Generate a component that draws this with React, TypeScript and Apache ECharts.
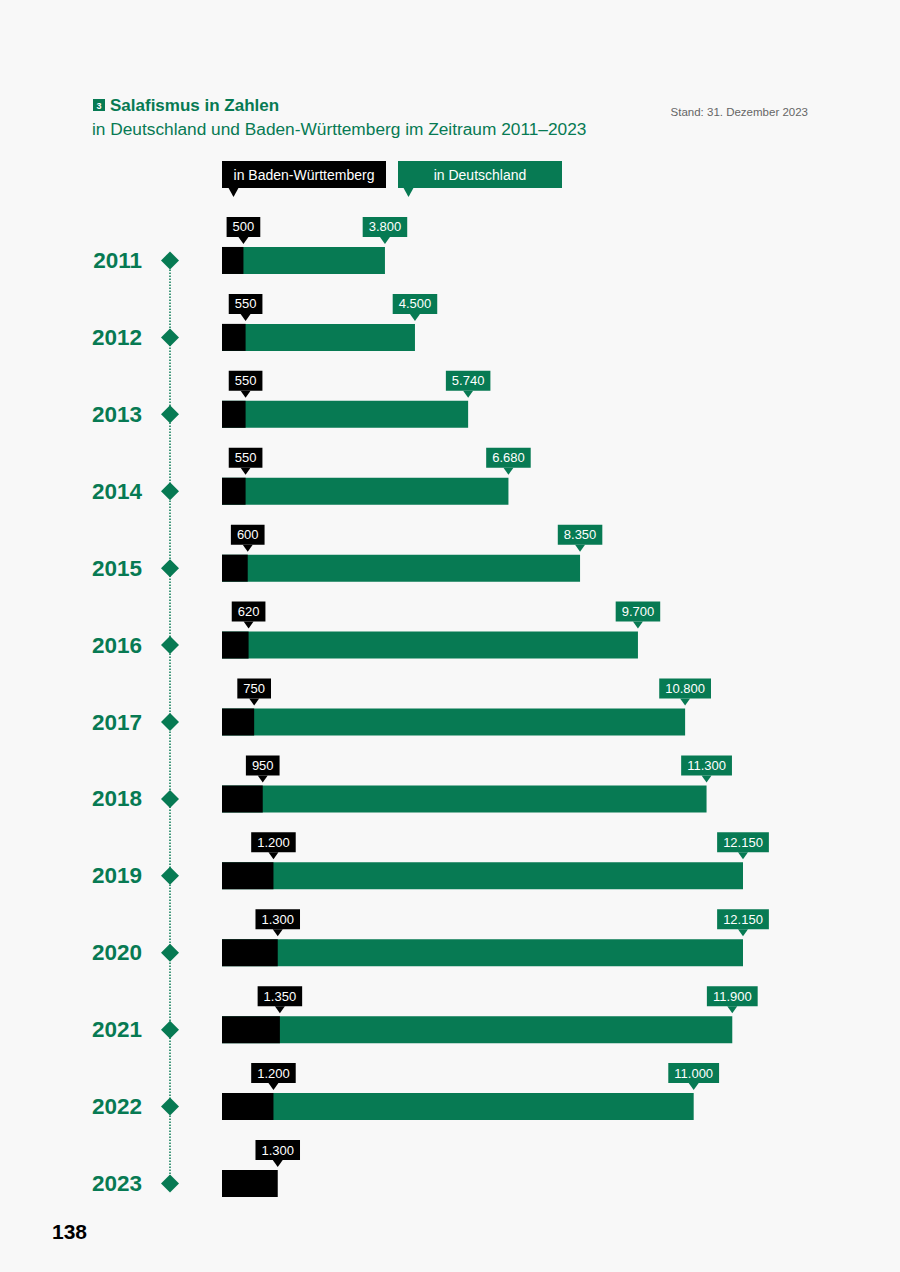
import React, { useEffect, useRef } from "react";
import * as echarts from "echarts";

const years = ["2011", "2012", "2013", "2014", "2015", "2016", "2017", "2018", "2019", "2020", "2021", "2022", "2023"];
const bwValues = [500, 550, 550, 550, 600, 620, 750, 950, 1200, 1300, 1350, 1200, 1300];
const deValues: (number | null)[] = [3800, 4500, 5740, 6680, 8350, 9700, 10800, 11300, 12150, 12150, 11900, 11000, null];

const GREEN = "#077a53";
const BLACK = "#000000";
const FONT = "Liberation Sans";
const BG = "#f8f8f8";

const fmt = (v: number) => String(v).replace(/\B(?=(\d{3})+(?!\d))/g, ".");

export default function App() {
  const ref = useRef<HTMLDivElement>(null);
  useEffect(() => {
    if (!ref.current) return;
    const chart = echarts.init(ref.current, null, { renderer: "svg" });
    const xMax = 14000;
    const pxPerUnit = 521 / 12150;
    const deLabelData = deValues
      .map((v, i) => (v == null ? null : [v, years[i]]))
      .filter((d) => d != null);
    const bwLabelData = bwValues.map((v, i) => [v, years[i]]);

    const labelSeries = (data: any[], color: string, z: number) => [
      {
        type: "scatter",
        xAxisIndex: 0,
        yAxisIndex: 0,
        data,
        symbol: "rect",
        symbolSize: 1,
        itemStyle: { color: "transparent", opacity: 1 },
        z: z + 1,
        label: {
          show: true,
          position: "top",
          distance: 23,
          formatter: (p: any) => fmt(p.value[0]),
          backgroundColor: color,
          color: "#ffffff",
          fontFamily: FONT,
          fontSize: 13,
          lineHeight: 14,
          padding: [3, 6, 3, 6],
        },
        silent: true,
      },
      {
        type: "scatter",
        xAxisIndex: 0,
        yAxisIndex: 0,
        data,
        symbol: "triangle",
        symbolRotate: 180,
        symbolSize: [10, 7],
        symbolOffset: [0, -20],
        itemStyle: { color, opacity: 1 },
        z,
        silent: true,
      },
    ];

    chart.setOption({
      animation: false,
      backgroundColor: BG,
      textStyle: { fontFamily: FONT },
      grid: [
        { left: 222, top: 222, height: 1000, width: xMax * pxPerUnit },
        { left: 150, top: 222, height: 1000, width: 40 },
      ],
      xAxis: [
        {
          gridIndex: 0,
          type: "value",
          min: 0,
          max: xMax,
          show: false,
        },
        { gridIndex: 1, type: "value", min: 0, max: 1, show: false },
      ],
      yAxis: [
        {
          gridIndex: 0,
          type: "category",
          data: years,
          inverse: true,
          axisLine: { show: false },
          axisTick: { show: false },
          splitLine: { show: false },
          axisLabel: {
            margin: 80,
            fontSize: 22.5,
            fontWeight: "bold",
            color: GREEN,
            fontFamily: FONT,
          },
        },
        { gridIndex: 1, type: "category", data: years, inverse: true, show: false },
      ],
      series: [
        {
          type: "bar",
          name: "in Deutschland",
          data: deValues,
          barWidth: 27,
          barGap: "-100%",
          itemStyle: { color: GREEN },
          z: 2,
          silent: true,
        },
        {
          type: "bar",
          name: "in Baden-Württemberg",
          data: bwValues,
          barWidth: 27,
          barGap: "-100%",
          itemStyle: { color: BLACK },
          z: 3,
          silent: true,
        },
        ...labelSeries(deLabelData, GREEN, 4),
        ...labelSeries(bwLabelData, BLACK, 6),
        {
          type: "line",
          xAxisIndex: 1,
          yAxisIndex: 1,
          data: years.map((y) => [0.5, y]),
          symbol: "none",
          lineStyle: { color: GREEN, type: "dotted", width: 1.5 },
          z: 2,
          silent: true,
        },
        {
          type: "scatter",
          xAxisIndex: 1,
          yAxisIndex: 1,
          data: years.map((y) => [0.5, y]),
          symbol: "diamond",
          symbolSize: 18,
          itemStyle: { color: GREEN, opacity: 1 },
          z: 3,
          silent: true,
        },
      ],
      graphic: [
        { type: "rect", shape: { x: 93, y: 99, width: 12, height: 12 }, style: { fill: GREEN } },
        {
          type: "text",
          x: 99,
          y: 105.5,
          style: { text: "3", fill: "#fff", font: `bold 9px "${FONT}"`, align: "center", verticalAlign: "middle" },
        },
        {
          type: "text",
          x: 110,
          y: 105,
          style: { text: "Salafismus in Zahlen", fill: GREEN, font: `bold 17px "${FONT}"`, verticalAlign: "middle" },
        },
        {
          type: "text",
          x: 92,
          y: 129,
          style: {
            text: "in Deutschland und Baden-Württemberg im Zeitraum 2011–2023",
            fill: GREEN,
            font: `17.3px "${FONT}"`,
            verticalAlign: "middle",
          },
        },
        {
          type: "text",
          x: 808,
          y: 112,
          style: { text: "Stand: 31. Dezember 2023", fill: "#666666", font: `11.5px "${FONT}"`, align: "right", verticalAlign: "middle" },
        },
        { type: "rect", shape: { x: 222, y: 161, width: 164, height: 27 }, style: { fill: BLACK } },
        { type: "polygon", shape: { points: [[228, 187], [239, 187], [233.5, 197]] }, style: { fill: BLACK } },
        {
          type: "text",
          x: 304,
          y: 175,
          style: { text: "in Baden-Württemberg", fill: "#fff", font: `14px "${FONT}"`, align: "center", verticalAlign: "middle" },
        },
        { type: "rect", shape: { x: 398, y: 161, width: 164, height: 27 }, style: { fill: GREEN } },
        { type: "polygon", shape: { points: [[403, 187], [414, 187], [408.5, 197]] }, style: { fill: GREEN } },
        {
          type: "text",
          x: 480,
          y: 175,
          style: { text: "in Deutschland", fill: "#fff", font: `14px "${FONT}"`, align: "center", verticalAlign: "middle" },
        },
        {
          type: "text",
          x: 52,
          y: 1231,
          style: { text: "138", fill: "#000", font: `bold 21px "${FONT}"`, verticalAlign: "middle" },
        },
      ],
    });
    return () => chart.dispose();
  }, []);
  return (
    <div
      ref={ref}
      style={{ position: "absolute", left: 0, top: 0, width: 900, height: 1272 }}
    />
  );
}
